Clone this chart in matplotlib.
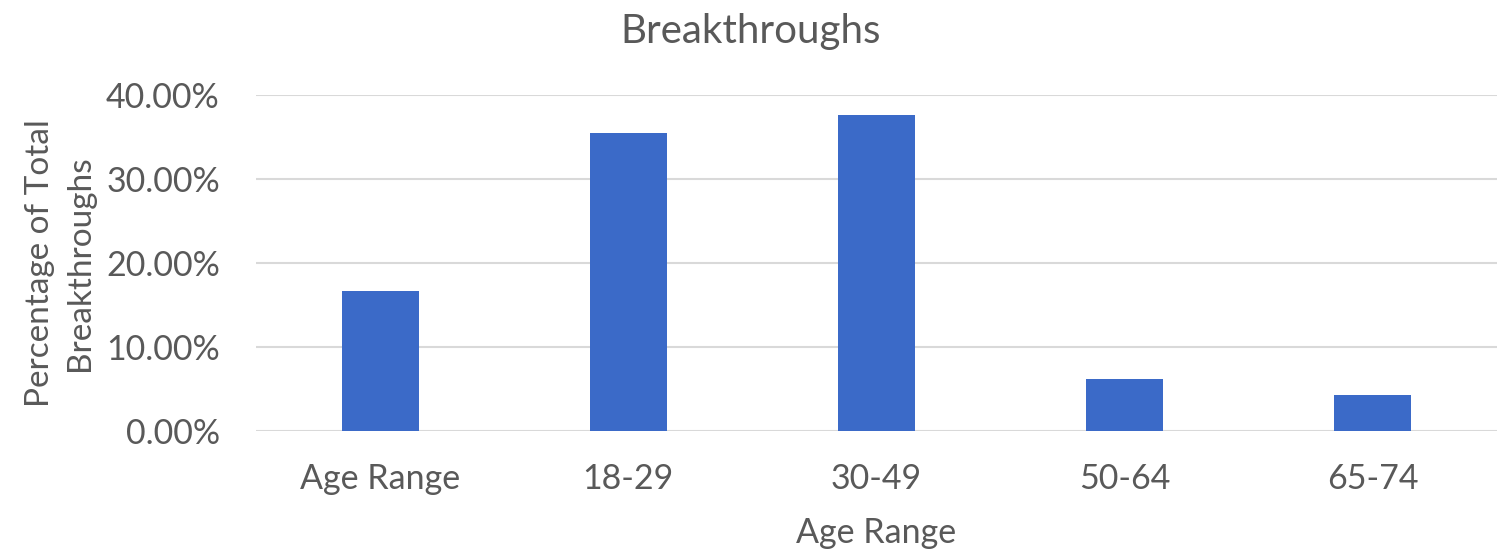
import matplotlib
matplotlib.use("Agg")
import matplotlib.pyplot as plt
from matplotlib.ticker import FuncFormatter

categories = ["Age Range", "18-29", "30-49", "50-64", "65-74"]
values = [16.6, 35.4, 37.6, 6.15, 4.3]  # percent
yticks = [0, 10, 20, 30, 40]

plt.rcParams['font.family'] = ['Lato', 'DejaVu Sans']
text_color = "#595959"

fig = plt.figure(figsize=(15.11, 5.49), dpi=100)
ax = fig.add_axes([0.1694, 0.2155, 0.8213, 0.612])

x = list(range(len(categories)))
ax.bar(x, values, width=0.31, color="#3B6AC8", zorder=3)
ax.set_xlim(-0.5, len(categories) - 0.5)
ax.set_ylim(0, 40)
ax.set_yticks(yticks)
ax.yaxis.set_major_formatter(FuncFormatter(lambda v, p: f"{v:.2f}%"))
ax.set_xticks(x)
ax.set_xticklabels(categories)

ax.grid(axis="y", color="#D9D9D9", linewidth=1.5, zorder=0)
for s in ax.spines.values():
    s.set_visible(False)
ax.tick_params(axis="both", length=0, labelsize=24.5, colors=text_color)
ax.tick_params(axis="y", pad=26)
ax.tick_params(axis="x", pad=23)

ax.set_xlabel("Age Range", fontsize=24.5, color=text_color, labelpad=16)
ax.set_ylabel("Percentage of Total\nBreakthroughs", fontsize=24, color=text_color,
              labelpad=8, linespacing=1.4)
fig.text(0.497, 0.942, "Breakthroughs", fontsize=29, color=text_color,
         ha="center", va="center")

fig.savefig("out.png", dpi=100)
